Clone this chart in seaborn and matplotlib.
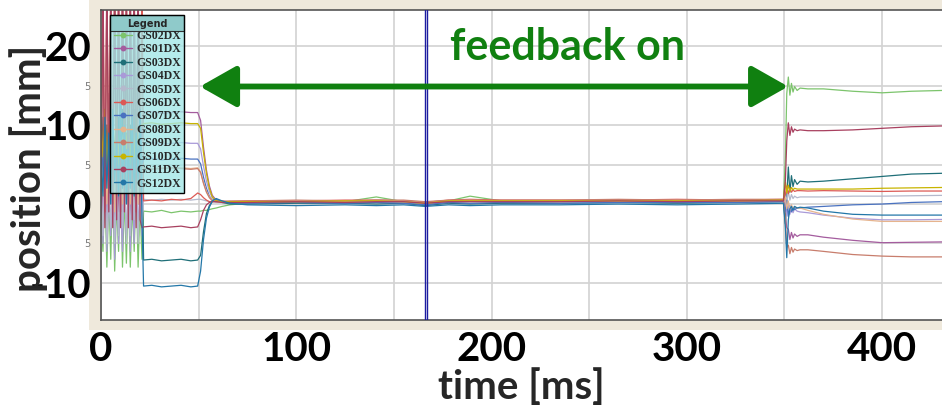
import numpy as np
import pandas as pd
import matplotlib
matplotlib.use("Agg")
import matplotlib.pyplot as plt
import seaborn as sns
from matplotlib.patches import Rectangle
from matplotlib.lines import Line2D

# ---------------- data ----------------
sensors = ["GS02DX", "GS01DX", "GS03DX", "GS04DX", "GS05DX", "GS06DX",
           "GS07DX", "GS08DX", "GS09DX", "GS10DX", "GS11DX", "GS12DX"]
colors = ["#7cc46c", "#a45c9e", "#1f6f78", "#a99ad8", "#b4b9cc", "#dc5a55",
          "#4a72c0", "#e6b48e", "#c87d6c", "#c8b400", "#a8405f", "#2377a8"]

time_ms = [0, 1, 2, 3, 4, 5, 6, 7, 8, 9, 10, 11, 12, 13, 14, 15, 16, 17, 18, 19, 20, 21,
           21.8, 26, 31, 36, 41, 46, 49.5,
           51, 52.5, 54, 55.5, 57, 59, 62, 66,
           75, 100, 125, 141, 155, 166, 178, 189, 205, 235, 265, 295, 325, 349.5,
           350.5, 351.2, 352, 352.8, 353.6, 354.4, 355.2, 356.5, 358, 362, 370, 385, 400, 415, 431]

GS02DX = [-1, -6, 2, -8, 1, -7, 3, -8.5, 0, -6, 4, -8, 1, -7.5, 2, -8, 0, -6, 3, -8, 0, -7,
          -0.9, -1.0, -0.8, -1.1, -0.9, -1.0, -0.9,
          -0.9, -0.8, -0.8, -0.7, -0.6, -0.5, -0.3, -0.1,
          0.1, 0.2, 0.3, 0.9, 0.3, -0.1, 0.4, 1.0, 0.4, 0.3, 0.4, 0.3, 0.4, 0.4,
          6.0, 14.0, 16.1, 13.8, 15.3, 14.2, 14.9, 14.4, 14.7, 14.6, 14.6, 14.3, 14.1, 14.3, 14.4]
GS01DX = [9, -2, 12, -3, 14, 0, 11, -3, 13, -1, 10, -2, 15, 1, 12, -2, 9, -3, 11, 0, 12, 8,
          11.6, 11.7, 11.5, 11.6, 11.7, 11.6, 11.6,
          10.6, 7.2, 4.3, 2.3, 1.1, 0.5, 0.3, 0.2,
          0.2, 0.3, 0.3, 0.4, 0.3, 0.2, 0.3, 0.4, 0.3, 0.4, 0.3, 0.4, 0.3, 0.4,
          -1.5, -3.0, -3.2, -4.5, -3.6, -4.3, -3.8, -4.1, -3.9, -3.9, -4.2, -4.6, -4.9, -4.85, -4.8]
GS03DX = [2, 11, 3, 10, 2, 12, 4, 8, 1, 11, 3, 12, 2, 9, 1, 10, 4, 12, 2, 8, 3, 6,
          -7.1, -7.0, -7.2, -7.1, -7.0, -7.2, -7.1,
          -6.5, -3.5, -1.2, -0.2, 0.3, 0.5, 0.2, 0.0,
          0.0, 0.1, 0.1, 0.0, 0.1, -0.2, 0.1, 0.0, 0.1, 0.1, 0.2, 0.1, 0.2, 0.3,
          -2.5, 1.0, 4.7, 1.5, 3.6, 2.2, 3.1, 2.5, 2.9, 2.8, 2.9, 3.2, 3.5, 3.8, 3.9]
GS04DX = [3, -5, 4, -6, 2, -4, 5, -7, 3, -5, 1, -6, 4, -4, 2, -6, 3, -5, 5, -3, 2, -4,
          7.7, 7.8, 7.6, 7.7, 7.8, 7.7, 7.7,
          7.0, 4.8, 2.9, 1.6, 0.8, 0.4, 0.3, 0.3,
          0.3, 0.4, 0.3, 0.5, 0.4, 0.2, 0.4, 0.5, 0.4, 0.4, 0.5, 0.4, 0.5, 0.5,
          0.5, -1.5, 0.2, -1.3, -0.4, -1.1, -0.6, -0.9, -1.0, -1.1, -1.4, -1.8, -2.0, -2.0, -1.95]
GS05DX = [3, -4, 6, -5, 2, -3, 7, -5, 4, -4, 5, -3, 6, -5, 3, -4, 5, -2, 4, -5, 2, -3,
          0.6, 0.5, 0.6, 0.5, 0.6, 0.5, 0.6,
          0.6, 0.5, 0.4, 0.3, 0.3, 0.2, 0.2, 0.2,
          0.2, 0.3, 0.2, 0.3, 0.2, 0.1, 0.2, 0.3, 0.3, 0.2, 0.3, 0.2, 0.3, 0.3,
          1.5, 0.2, 1.6, 0.5, 1.2, 0.7, 1.0, 0.8, 0.9, 0.9, 0.9, 1.0, 1.0, 1.05, 1.1]
GS06DX = [8, 30, -1, 28, 2, 30, 0, 29, 1, 30, -1, 28, 3, 30, 0, 27, 2, 30, -1, 29, 1, 30,
          0.4, 0.5, 0.4, 0.6, 0.5, 0.7, 1.4,
          1.2, 0.8, 0.5, 0.3, 0.3, 0.4, 0.4, 0.3,
          0.4, 0.4, 0.5, 0.5, 0.4, 0.2, 0.5, 0.6, 0.5, 0.5, 0.5, 0.6, 0.5, 0.6,
          1.2, 2.3, 1.3, 2.0, 1.5, 1.8, 1.6, 1.7, 1.7, 1.65, 1.7, 1.65, 1.6, 1.65, 1.65]
GS07DX = [10, 3, 12, 2, 9, 4, 11, 1, 12, 3, 10, 2, 11, 4, 9, 2, 12, 3, 10, 1, 11, 5,
          5.7, 5.8, 5.6, 5.7, 5.8, 5.7, 5.7,
          5.1, 3.4, 2.0, 1.0, 0.5, 0.6, 0.3, 0.2,
          0.1, 0.2, 0.1, 0.2, 0.1, -0.1, 0.2, 0.1, 0.2, 0.1, 0.2, 0.2, 0.2, 0.3,
          -1.0, 0.5, -1.6, -0.2, -1.0, -0.4, -0.7, -0.5, -0.5, -0.4, -0.3, -0.1, 0.0, 0.2, 0.3]
GS08DX = [6, 1, 9, 0, 7, 2, 8, -1, 9, 1, 7, 0, 8, 2, 6, 0, 9, 1, 7, 0, 8, 4,
          4.6, 4.5, 4.6, 4.5, 4.6, 4.5, 4.6,
          4.1, 2.7, 1.6, 0.9, 0.5, 0.3, 0.3, 0.3,
          0.3, 0.4, 0.4, 0.5, 0.4, 0.2, 0.4, 0.5, 0.4, 0.5, 0.4, 0.5, 0.4, 0.5,
          0.8, -0.6, 0.4, -0.8, -0.1, -0.6, -0.3, -0.5, -0.5, -0.8, -1.3, -1.9, -2.2, -2.2, -2.2]
GS09DX = [4, 20, 2, 26, 5, 18, 1, 28, 3, 22, 2, 27, 4, 19, 1, 26, 3, 21, 2, 25, 4, 5,
          4.5, 4.4, 4.5, 4.6, 4.5, 4.4, 4.5,
          4.0, 2.6, 1.5, 0.8, 0.4, 0.3, 0.3, 0.4,
          0.4, 0.5, 0.4, 0.5, 0.5, 0.3, 0.5, 0.5, 0.5, 0.5, 0.6, 0.5, 0.6, 0.6,
          -2.0, -5.5, -5.2, -6.3, -5.5, -6.1, -5.7, -5.9, -5.8, -5.8, -6.0, -6.4, -6.6, -6.7, -6.7]
GS10DX = [11, 6, 12, 5, 10, 7, 11, 6, 12, 5, 10, 6, 11, 7, 12, 5, 10, 6, 11, 7, 10, 10,
          10.2, 10.3, 10.1, 10.2, 10.3, 10.2, 10.2,
          9.6, 6.5, 3.9, 2.0, 0.9, 0.4, 0.3, 0.3,
          0.3, 0.3, 0.4, 0.4, 0.3, 0.1, 0.4, 0.4, 0.4, 0.4, 0.4, 0.4, 0.4, 0.5,
          2.8, 1.4, 2.4, 1.6, 2.1, 1.8, 2.0, 1.9, 1.9, 1.9, 1.9, 1.9, 2.0, 2.05, 2.1]
GS11DX = [-2, 27, -3, 30, -1, 26, -3, 29, -2, 28, -3, 30, -1, 27, -3, 29, -2, 26, -3, 28, -2, -3,
          -2.9, -2.8, -3.0, -2.9, -2.8, -3.0, -2.9,
          -2.0, -0.8, -0.1, 0.2, 0.3, 0.3, 0.2, 0.2,
          0.2, 0.3, 0.2, 0.3, 0.3, 0.1, 0.3, 0.3, 0.3, 0.3, 0.4, 0.3, 0.4, 0.4,
          3.0, 8.0, 10.3, 8.7, 9.8, 9.1, 9.5, 9.3, 9.4, 9.3, 9.3, 9.4, 9.6, 9.8, 9.9]
GS12DX = [6, 1, 11, 2, 9, 0, 12, 3, 8, 1, 13, 2, 10, 0, 7, 2, 11, 1, 9, 3, 12, -2,
          -10.4, -10.3, -10.5, -10.4, -10.3, -10.5, -10.4,
          -8.5, -4.5, -1.8, -0.4, 0.4, 0.7, 0.4, 0.1,
          -0.1, -0.2, -0.1, -0.2, -0.1, -0.3, -0.1, -0.2, -0.1, -0.1, 0.0, -0.1, 0.0, 0.1,
          -3.0, -6.8, -2.0, -0.6, -0.3, -0.8, -0.3, -0.5, -0.4, -0.5, -0.9, -1.3, -1.4, -1.4, -1.4]

series = {"GS02DX": GS02DX, "GS01DX": GS01DX, "GS03DX": GS03DX, "GS04DX": GS04DX,
          "GS05DX": GS05DX, "GS06DX": GS06DX, "GS07DX": GS07DX, "GS08DX": GS08DX,
          "GS09DX": GS09DX, "GS10DX": GS10DX, "GS11DX": GS11DX, "GS12DX": GS12DX}

x_ticks = [0, 100, 200, 300, 400]
y_ticks = [-10, 0, 10, 20]
y_minor_ticks = [-5, 5, 15]
y_minor_labels = ["5", "5", "5"]

marker_time = 166.6
arrow_start, arrow_end, arrow_level = 50.7, 351.9, 14.9

# ---------------- figure ----------------
sns.set_style("white")
plt.rcParams["font.family"] = ["Lato", "DejaVu Sans"]
plt.rcParams["axes.unicode_minus"] = False

rows = []
for s in sensors:
    for t, v in zip(time_ms, series[s]):
        rows.append((t, v, s))
df = pd.DataFrame(rows, columns=["time", "position", "sensor"])
palette = dict(zip(sensors, colors))

W, H = 942, 405
fig = plt.figure(figsize=(W / 100, H / 100), dpi=100)
fig.patches.append(Rectangle((89 / W, 75 / H), (W - 89) / W, 330 / H,
                             transform=fig.transFigure, facecolor="#efe9dc",
                             edgecolor="none", zorder=-10))
ax = fig.add_axes([101 / W, 85 / H, (W - 101) / W, 310 / H])
ax.set_facecolor("white")

sns.lineplot(data=df, x="time", y="position", hue="sensor", hue_order=sensors,
             palette=palette, estimator=None, sort=False, linewidth=0.9,
             ax=ax, legend=False)

ax.set_xlim(0, 430.7)
ax.set_ylim(-14.7, 24.6)
ax.set_xticks(x_ticks)
ax.set_xticklabels([str(v) for v in x_ticks])
ax.set_xticks([50, 150, 250, 350], minor=True)
ax.set_yticks(y_ticks)
ax.set_yticklabels([str(v) for v in y_ticks])
ax.set_yticks(y_minor_ticks, minor=True)
ax.set_yticklabels(y_minor_labels, minor=True)
ax.grid(True, which="both", color="#d2d2d2", lw=1.2)
ax.set_axisbelow(True)
ax.tick_params(axis="both", which="both", direction="out", length=4, width=1,
               color="#555555")
ax.tick_params(axis="x", which="major", pad=4)
ax.tick_params(axis="y", which="major", pad=3)
for lbl in ax.get_xticklabels() + ax.get_yticklabels():
    lbl.set_fontfamily("Lato")
    lbl.set_fontweight("bold")
    lbl.set_fontsize(29)
    lbl.set_color("black")
for lbl in ax.get_yticklabels(minor=True):
    lbl.set_fontfamily("DejaVu Sans")
    lbl.set_fontsize(7)
    lbl.set_color("#777777")

for side in ["left", "bottom", "top"]:
    ax.spines[side].set_color("#555555")
    ax.spines[side].set_linewidth(1.2)
ax.spines["right"].set_visible(False)

ax.set_xlabel("time [ms]", fontsize=29, fontweight="bold", family="Lato", labelpad=0)
ax.set_ylabel("position [mm]", fontsize=29, fontweight="bold", family="Lato")
ax.yaxis.set_label_coords(-0.063, 0.49)

green = "#108010"
ax.text(238.7, 19.9, "feedback on", color=green, fontsize=31, fontweight="bold",
        family="Lato", ha="center", va="center", zorder=6)
ax.annotate("", xy=(arrow_end, arrow_level), xytext=(arrow_start, arrow_level),
            arrowprops=dict(arrowstyle="<|-|>,head_length=1.5,head_width=0.85",
                            mutation_scale=15, lw=4.2, color=green,
                            shrinkA=0, shrinkB=0), zorder=6)

ax.axvline(marker_time - 0.55, color="#1c1ca0", lw=1.0, zorder=4)
ax.axvline(marker_time + 0.55, color="#1c1ca0", lw=1.0, zorder=4)

# legend
handles = [Line2D([], [], color=c, lw=1.0, marker="o", markersize=3.2,
                  markerfacecolor=c, markeredgecolor=c) for c in colors]
leg = ax.legend(handles, sensors, title="Legend", loc="upper left",
                bbox_to_anchor=(110 / W, 1 - 15 / H), bbox_transform=fig.transFigure,
                borderaxespad=0, frameon=True, fancybox=False, edgecolor="black",
                facecolor="none", framealpha=1,
                prop=dict(family="Liberation Serif", weight="bold", size=8.5),
                title_fontproperties=dict(family="DejaVu Sans", weight="bold", size=7),
                handlelength=1.6, handletextpad=0.3, labelspacing=0.12, borderpad=0.3)
leg.get_frame().set_linewidth(1.0)
leg.set_zorder(7)

fig.canvas.draw()
inv = fig.transFigure.inverted()
lb = leg.get_window_extent().transformed(inv)
tb = leg.get_title().get_window_extent().transformed(inv)
ax.add_patch(Rectangle((lb.x0, lb.y0), lb.width, lb.height, transform=fig.transFigure,
                       facecolor="#a3e6e6", alpha=0.8, edgecolor="none",
                       zorder=6.5, clip_on=False))
hy = tb.y0 - 2 / H
ax.add_patch(Rectangle((lb.x0, hy), lb.width, lb.y1 - hy, transform=fig.transFigure,
                       facecolor="#8fcaca", edgecolor="#333333", lw=0.8,
                       zorder=6.6, clip_on=False))

fig.savefig("out.png", dpi=100)
